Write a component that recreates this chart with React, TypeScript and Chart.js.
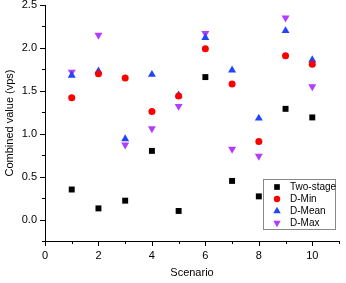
import React, { useEffect, useRef } from "react";
import { Chart, registerables } from "chart.js";

Chart.register(...registerables);

const scenarios = [1, 2, 3, 4, 5, 6, 7, 8, 9, 10];
const twoStage = [0.35, 0.13, 0.22, 0.8, 0.1, 1.66, 0.45, 0.27, 1.29, 1.19];
const dMin = [1.42, 1.7, 1.65, 1.26, 1.44, 1.99, 1.58, 0.91, 1.91, 1.81];
const dMean = [1.68, 1.73, 0.94, 1.69, 1.45, 2.12, 1.74, 1.18, 2.2, 1.86];
const dMax = [1.72, 2.15, 0.87, 1.06, 1.32, 2.17, 0.82, 0.74, 2.35, 1.55];
const seriesLabels = ["Two-stage", "D-Min", "D-Mean", "D-Max"];
const xTitle = "Scenario";
const yTitle = "Combined value (vps)";

const FONT = "'Liberation Sans', Arial, sans-serif";

function drawMarker(ctx: any, style: string, rotation: number, x: number, y: number, r: number, color: string) {
  ctx.save();
  ctx.fillStyle = color;
  ctx.beginPath();
  if (style === "rect") {
    const s = Math.SQRT1_2 * r;
    ctx.rect(x - s, y - s, 2 * s, 2 * s);
  } else if (style === "circle") {
    ctx.arc(x, y, r, 0, Math.PI * 2);
  } else {
    let rad = (rotation * Math.PI) / 180;
    ctx.moveTo(x + Math.sin(rad) * r, y - Math.cos(rad) * r);
    rad += (2 * Math.PI) / 3;
    ctx.lineTo(x + Math.sin(rad) * r, y - Math.cos(rad) * r);
    rad += (2 * Math.PI) / 3;
    ctx.lineTo(x + Math.sin(rad) * r, y - Math.cos(rad) * r);
    ctx.closePath();
  }
  ctx.fill();
  ctx.restore();
}

const tickPlugin = {
  id: "originTicks",
  afterDraw(chart: any) {
    const ctx = chart.ctx;
    const xs = chart.scales.x;
    const ys = chart.scales.y;
    const area = chart.chartArea;
    ctx.save();
    ctx.strokeStyle = "#000";
    ctx.lineWidth = 1;
    xs.ticks.forEach((t: any) => {
      const px = Math.round(xs.getPixelForValue(t.value)) + 0.5;
      const major = t.value % 2 === 0;
      const len = major ? 5 : 3;
      ctx.beginPath();
      ctx.moveTo(px, area.bottom);
      ctx.lineTo(px, area.bottom + len);
      ctx.stroke();
    });
    ys.ticks.forEach((t: any) => {
      const py = Math.round(ys.getPixelForValue(t.value)) + 0.5;
      const major = Math.abs(Math.round(t.value * 2) - t.value * 2) < 1e-6;
      const len = major ? 5 : 3;
      ctx.beginPath();
      ctx.moveTo(area.left, py);
      ctx.lineTo(area.left - len, py);
      ctx.stroke();
    });
    // legend box
    const bx = 263.5, by = 179.5, bw = 72, bh = 50;
    ctx.strokeStyle = "#888";
    ctx.fillStyle = "#fff";
    ctx.fillRect(bx, by, bw, bh);
    ctx.strokeRect(bx, by, bw, bh);
    ctx.font = `10px ${FONT}`;
    ctx.textBaseline = "middle";
    ctx.textAlign = "left";
    chart.data.datasets.forEach((ds: any, i: number) => {
      const y = 187 + i * 12;
      const r = ds.pointStyle === "circle" ? 3.2 : ds.pointStyle === "rect" ? 4.0 : 4.3;
      drawMarker(ctx, ds.pointStyle, ds.rotation || 0, 277, y, r, ds.backgroundColor);
      ctx.fillStyle = "#000";
      ctx.fillText(ds.label, 290, y + 0.5);
    });
    ctx.restore();
  },
};

export default function App() {
  const ref = useRef<HTMLCanvasElement>(null);
  useEffect(() => {
    document.body.style.margin = "0";
    const toPts = (arr: number[]) => arr.map((v, i) => ({ x: scenarios[i], y: v }));
    const chart = new Chart(ref.current!, {
      type: "scatter",
      data: {
        datasets: [
          { label: seriesLabels[0], data: toPts(twoStage), pointStyle: "rect", pointRadius: 4.2, backgroundColor: "#000000", borderWidth: 0 },
          { label: seriesLabels[1], data: toPts(dMin), pointStyle: "circle", pointRadius: 3.5, backgroundColor: "#ff0000", borderWidth: 0 },
          { label: seriesLabels[2], data: toPts(dMean), pointStyle: "triangle", pointRadius: 4.6, backgroundColor: "#2244ff", borderWidth: 0 },
          { label: seriesLabels[3], data: toPts(dMax), pointStyle: "triangle", rotation: 180, pointRotation: 180, pointRadius: 4.6, backgroundColor: "#b23cff", borderWidth: 0 } as any,
        ],
      },
      options: {
        animation: false,
        responsive: false,
        maintainAspectRatio: false,
        layout: { padding: { left: 0, right: 7, top: 5, bottom: 0 } },
        plugins: { legend: { display: false }, tooltip: { enabled: false } },
        scales: {
          x: {
            type: "linear",
            min: 0,
            max: 11,
            grid: { display: false, drawTicks: false },
            border: { display: true, color: "#000", width: 1 },
            ticks: {
              stepSize: 1,
              autoSkip: false,
              maxRotation: 0,
              padding: 8,
              color: "#000",
              font: { family: FONT, size: 11 },
              callback: (v: any) => (Number(v) % 2 === 0 ? String(v) : ""),
            },
            title: { display: true, text: xTitle, color: "#000", font: { family: FONT, size: 11 }, padding: { top: 1, bottom: 3 } },
            afterFit: (s: any) => { s.height = 42; s.paddingLeft = 0; s.paddingRight = 0; },
          },
          y: {
            type: "linear",
            min: -0.25,
            max: 2.5,
            grid: { display: false, drawTicks: false },
            border: { display: true, color: "#000", width: 1 },
            ticks: {
              stepSize: 0.25,
              autoSkip: false,
              padding: 8,
              color: "#000",
              font: { family: FONT, size: 11 },
              callback: (v: any) => {
                const n = Number(v);
                return Math.abs(Math.round(n * 2) - n * 2) < 1e-6 ? n.toFixed(1) : "";
              },
            },
            title: { display: true, text: yTitle, color: "#000", font: { family: FONT, size: 11 }, padding: { top: 3, bottom: 4 } },
            afterFit: (s: any) => { s.width = 45; s.paddingTop = 0; s.paddingBottom = 0; },
          },
        },
      },
      plugins: [tickPlugin],
    } as any);
    return () => chart.destroy();
  }, []);
  return (
    <div style={{ position: "absolute", left: 0, top: 0, width: 346, height: 283 }}>
      <canvas ref={ref} width={346} height={283} style={{ width: 346, height: 283 }} />
    </div>
  );
}
